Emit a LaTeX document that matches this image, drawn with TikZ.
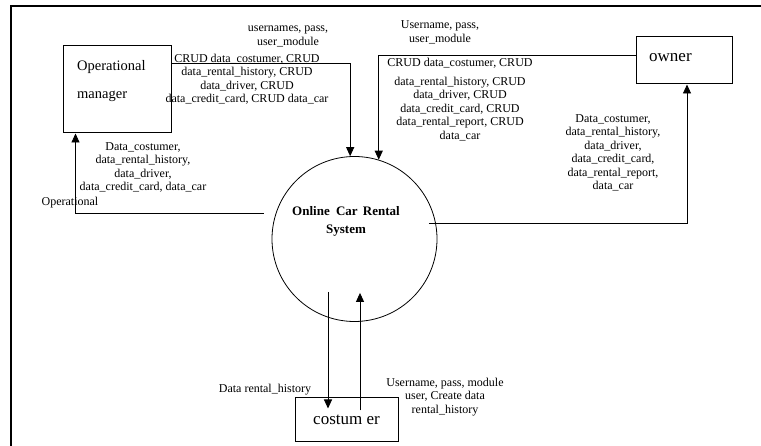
\documentclass[tikz,border=0pt]{standalone}
\usepackage{fontspec}
\setmainfont{Liberation Serif}
\usetikzlibrary{positioning,arrows.meta,calc}

\begin{document}
\begin{tikzpicture}[x=1pt,y=-1pt,>={Triangle[length=9pt,width=8pt]},
  entity/.style={draw,line width=1pt,inner sep=0pt},
  lbl/.style={font=\fontsize{12}{13.5}\selectfont,align=center,inner sep=0pt},
  flow/.style={->,line width=0.9pt}]
\useasboundingbox (0,0) rectangle (761,446);
% outer frame
\draw[line width=2pt] (11,470) -- (11,6.5) -- (790,6.5);

% process and external entities
\node[draw,circle,minimum size=165pt,inner sep=0pt,line width=0.8pt] (sys) at (354.5,239) {};
\node[font=\fontsize{13}{18}\selectfont\bfseries,align=center,inner sep=0pt] (systxt) at (346,221)
  {Online\hspace{3pt} Car\hspace{2pt} Rental\\System};
\node[entity,minimum width=108pt,minimum height=87pt] (opm) at (117,89.5) {};
\node[font=\fontsize{14.5}{28}\selectfont,align=left,anchor=west,inner sep=0pt] (opmtxt) at (77,81)
  {Operational\\manager};
\node[entity,minimum width=96pt,minimum height=47pt] (owner) at (684,60.5) {};
\node[font=\fontsize{17}{20}\selectfont,anchor=west,inner sep=0pt] (ownertxt) at (649,58) {owner};
\node[entity,minimum width=103pt,minimum height=44pt,font=\fontsize{17}{20}\selectfont] (cost) at (346.5,420) {costum er};

% flows
\draw[flow] ([yshift=-18pt]opm.north east) -| (sys.93);
\draw[flow] ([yshift=5.5pt]owner.west) -| (sys.73);
\draw[flow] ([xshift=-12pt]sys.162) -| ([xshift=13pt]opm.south west);
\draw[flow] ([xshift=-7pt]sys.11) -| ([xshift=3pt]owner.south);
\coordinate (dn) at ([xshift=-26.5pt,yshift=30pt]sys.south);
\coordinate (up) at ([xshift=5.5pt,yshift=29pt]sys.south);
\draw[flow,shorten >=-11pt] (dn) -- (dn |- cost.north);
\draw[flow,shorten <=-13pt] (up |- cost.north) -- (up);

% flow labels
\node[lbl] (l1) at (288,36.5) {usernames, pass,\\user\_module};
\node[lbl] (l2) at (247,79.5) {CRUD data\_costumer, CRUD\\data\_rental\_history, CRUD\\data\_driver, CRUD\\data\_credit\_card, CRUD data\_car};
\node[lbl] (l3) at (440,32.5) {Username, pass,\\user\_module};
\node[lbl] (l4) at (460,99.5) {CRUD data\_costumer, CRUD\\[5pt]data\_rental\_history, CRUD\\data\_driver, CRUD\\data\_credit\_card, CRUD\\data\_rental\_report, CRUD\\data\_car};
\node[lbl] (l5) at (613,153) {Data\_costumer,\\data\_rental\_history,\\data\_driver,\\data\_credit\_card,\\data\_rental\_report,\\data\_car};
\node[lbl] (l6) at (143,167.5) {Data\_costumer,\\data\_rental\_history,\\data\_driver,\\data\_credit\_card, data\_car};
\node[lbl] (l7) at (70,203) {Operational};
\node[lbl] (l8) at (265,390) {Data rental\_history};
\node[lbl] (l9) at (445,397) {Username, pass, module\\user, Create data\\rental\_history};
\end{tikzpicture}
\end{document}
